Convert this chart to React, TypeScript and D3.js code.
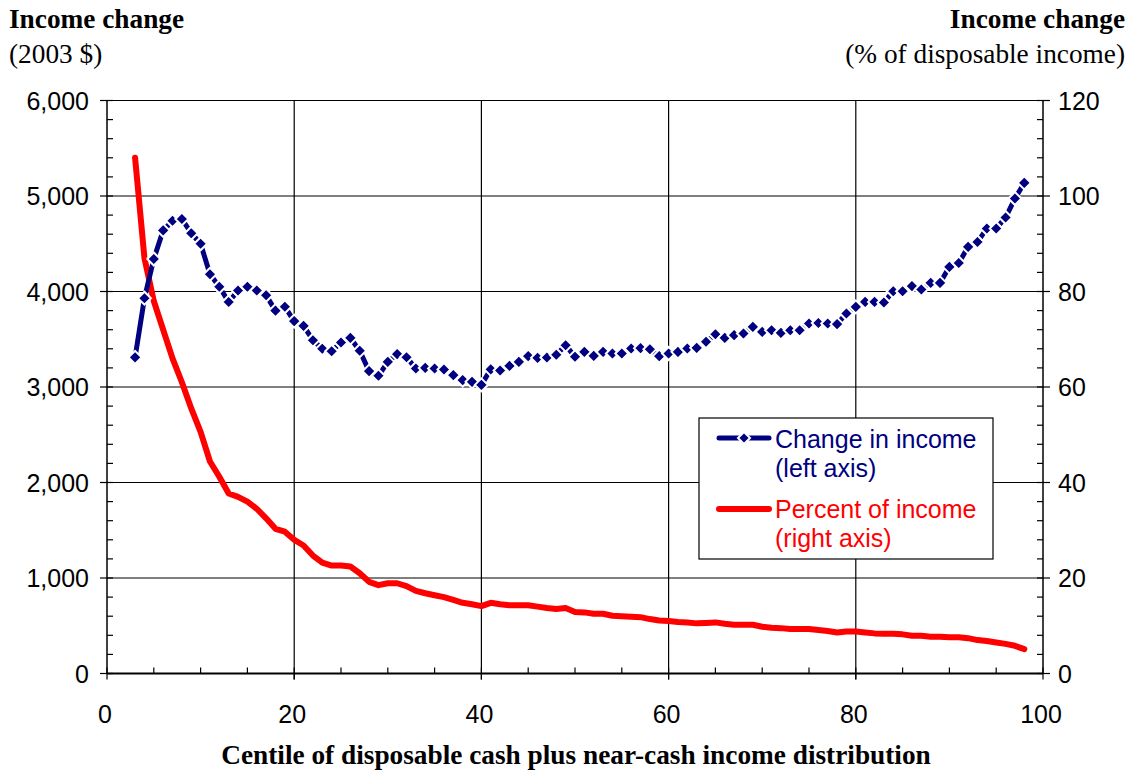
import React from "react";
import * as d3 from "d3";

const centiles = [3,4,5,6,7,8,9,10,11,12,13,14,15,16,17,18,19,20,21,22,23,24,25,26,27,28,29,30,31,32,33,34,35,36,37,38,39,40,41,42,43,44,45,46,47,48,49,50,51,52,53,54,55,56,57,58,59,60,61,62,63,64,65,66,67,68,69,70,71,72,73,74,75,76,77,78,79,80,81,82,83,84,85,86,87,88,89,90,91,92,93,94,95,96,97,98];

const changeInIncome = [3310,3930,4340,4640,4740,4760,4610,4500,4180,4050,3890,4010,4050,4010,3960,3800,3840,3690,3640,3490,3400,3375,3466,3514,3380,3166,3117,3263,3344,3312,3194,3200,3194,3184,3124,3072,3054,3022,3185,3172,3221,3263,3323,3305,3309,3337,3438,3316,3368,3326,3368,3351,3351,3403,3407,3396,3323,3351,3368,3403,3410,3473,3553,3514,3543,3560,3630,3577,3595,3567,3595,3595,3665,3671,3665,3658,3770,3839,3891,3891,3885,4003,4003,4056,4021,4090,4090,4258,4299,4467,4519,4659,4659,4775,4973,5137];

const percentOfIncome = [108,87,78,72,66,61,55.5,50.6,44.4,41.2,37.7,37.0,36.0,34.5,32.5,30.3,29.7,28.0,26.8,24.7,23.2,22.6,22.6,22.4,21.0,19.2,18.5,18.9,18.9,18.3,17.3,16.8,16.4,16.0,15.4,14.8,14.5,14.1,14.8,14.5,14.3,14.3,14.3,14.0,13.7,13.5,13.7,12.9,12.8,12.5,12.5,12.1,12.0,11.9,11.8,11.4,11.1,11.0,10.8,10.7,10.5,10.6,10.7,10.4,10.2,10.2,10.2,9.8,9.6,9.5,9.3,9.3,9.3,9.1,8.9,8.6,8.8,8.8,8.6,8.4,8.3,8.3,8.2,7.9,7.9,7.7,7.7,7.6,7.6,7.4,7.0,6.8,6.5,6.2,5.8,5.1];

const xTicks = [0,20,40,60,80,100];
const leftTicks = [0,1000,2000,3000,4000,5000,6000];
const rightTicks = [0,20,40,60,80,100,120];
const xMinorTicks = [5,10,15,25,30,35,45,50,55,65,70,75,85,90,95];
const leftMinor = [200,400,600,800,1200,1400,1600,1800,2200,2400,2600,2800,3200,3400,3600,3800,4200,4400,4600,4800,5200,5400,5600,5800];
const rightMinor = [4,8,12,16,24,28,32,36,44,48,52,56,64,68,72,76,84,88,92,96,104,108,112,116];

const NAVY = "#000080";
const RED = "#FF0000";
const SERIF = "'Liberation Serif', 'Times New Roman', serif";
const SANS = "'Liberation Sans', Arial, sans-serif";

export default function App() {
  const left = 107, right = 1043, top = 100.5, bottom = 673.5;
  const x = d3.scaleLinear().domain([0, 100]).range([left, right]);
  const yL = d3.scaleLinear().domain([0, 6000]).range([bottom, top]);
  const yR = d3.scaleLinear().domain([0, 120]).range([bottom, top]);

  const blueLine = d3.line<number>().x((d, i) => x(centiles[i])).y((d) => yL(d));
  const redLine = d3.line<number>().x((d, i) => x(centiles[i])).y((d) => yR(d));

  const diamond = (cx: number, cy: number, r: number) =>
    `M${cx},${cy - r}L${cx + r},${cy}L${cx},${cy + r}L${cx - r},${cy}Z`;

  const legX = 699, legY = 418, legW = 294, legH = 141;
  const fs = 25;

  return (
    <svg width={1134} height={772} style={{ position: "absolute", left: 0, top: 0, background: "#fff" }}>
      <rect x={0} y={0} width={1134} height={772} fill="#fff" />
      {/* gridlines */}
      {leftTicks.map((t) => (
        <line key={"hg" + t} x1={left} x2={right} y1={yL(t)} y2={yL(t)} stroke="#000" strokeWidth={1.2} />
      ))}
      {xTicks.filter((t) => t > 0 && t < 100).map((t) => (
        <line key={"vg" + t} x1={x(t)} x2={x(t)} y1={top} y2={bottom + 6} stroke="#000" strokeWidth={1.2} />
      ))}
      {/* axes */}
      <line x1={left} x2={left} y1={top} y2={bottom} stroke="#000" strokeWidth={1.5} />
      <line x1={right} x2={right} y1={top} y2={bottom} stroke="#000" strokeWidth={1.5} />
      <line x1={left} x2={right} y1={bottom} y2={bottom} stroke="#000" strokeWidth={1.8} />
      {/* ticks */}
      {leftTicks.map((t) => (
        <line key={"lt" + t} x1={left - 7} x2={left + 6} y1={yL(t)} y2={yL(t)} stroke="#000" strokeWidth={1.2} />
      ))}
      {leftMinor.map((t) => (
        <line key={"lm" + t} x1={left} x2={left + 6} y1={yL(t)} y2={yL(t)} stroke="#000" strokeWidth={1.2} />
      ))}
      {rightTicks.map((t) => (
        <line key={"rt" + t} x1={right - 6} x2={right + 7} y1={yR(t)} y2={yR(t)} stroke="#000" strokeWidth={1.2} />
      ))}
      {rightMinor.map((t) => (
        <line key={"rm" + t} x1={right - 6} x2={right} y1={yR(t)} y2={yR(t)} stroke="#000" strokeWidth={1.2} />
      ))}
      {xTicks.map((t) => (
        <line key={"xt" + t} x1={x(t)} x2={x(t)} y1={bottom - 6} y2={bottom + 6} stroke="#000" strokeWidth={1.2} />
      ))}
      {xMinorTicks.map((t) => (
        <line key={"xm" + t} x1={x(t)} x2={x(t)} y1={bottom - 6} y2={bottom} stroke="#000" strokeWidth={1.2} />
      ))}
      {/* tick labels */}
      {leftTicks.map((t) => (
        <text key={"ll" + t} x={left - 18} y={yL(t)} dy="0.36em" textAnchor="end" fontFamily={SANS} fontSize={fs}>
          {d3.format(",")(t)}
        </text>
      ))}
      {rightTicks.map((t) => (
        <text key={"rl" + t} x={right + 15} y={yR(t)} dy="0.36em" textAnchor="start" fontFamily={SANS} fontSize={fs}>
          {t}
        </text>
      ))}
      {xTicks.map((t) => (
        <text key={"xl" + t} x={x(t) - 2} y={723} textAnchor="middle" fontFamily={SANS} fontSize={fs}>
          {t}
        </text>
      ))}
      {/* series */}
      <path d={redLine(percentOfIncome) || ""} fill="none" stroke={RED} strokeWidth={6} strokeLinejoin="round" strokeLinecap="round" />
      <path d={blueLine(changeInIncome) || ""} fill="none" stroke={NAVY} strokeWidth={5} strokeLinejoin="round" />
      {changeInIncome.map((v, i) => (
        <path key={"m" + i} d={diamond(x(centiles[i]), yL(v), 6.5)} fill={NAVY} stroke="#fff" strokeWidth={2} />
      ))}
      {/* legend */}
      <rect x={legX} y={legY} width={legW} height={legH} fill="#fff" stroke="#000" strokeWidth={1.2} />
      <line x1={legX + 20} x2={legX + 70} y1={legY + 20} y2={legY + 20} stroke={NAVY} strokeWidth={5} strokeLinecap="round" />
      <path d={diamond(legX + 45, legY + 20, 6)} fill={NAVY} stroke="#fff" strokeWidth={2} />
      <text x={legX + 76} y={legY + 30} fontFamily={SANS} fontSize={fs} fill={NAVY}>Change in income</text>
      <text x={legX + 76} y={legY + 59} fontFamily={SANS} fontSize={fs} fill={NAVY}>(left axis)</text>
      <line x1={legX + 20} x2={legX + 70} y1={legY + 91} y2={legY + 91} stroke={RED} strokeWidth={6} strokeLinecap="round" />
      <text x={legX + 76} y={legY + 100} fontFamily={SANS} fontSize={fs} fill={RED}>Percent of income</text>
      <text x={legX + 76} y={legY + 129} fontFamily={SANS} fontSize={fs} fill={RED}>(right axis)</text>
      {/* titles */}
      <text x={9} y={28} fontFamily={SERIF} fontWeight="bold" fontSize={27.3}>Income change</text>
      <text x={9} y={63} fontFamily={SERIF} fontSize={27.3}>(2003 $)</text>
      <text x={1125} y={28} textAnchor="end" fontFamily={SERIF} fontWeight="bold" fontSize={27.3}>Income change</text>
      <text x={1125} y={63} textAnchor="end" fontFamily={SERIF} fontSize={27.3}>(% of disposable income)</text>
      <text x={576} y={764} textAnchor="middle" fontFamily={SERIF} fontWeight="bold" fontSize={27.3}>
        Centile of disposable cash plus near-cash income distribution
      </text>
    </svg>
  );
}
